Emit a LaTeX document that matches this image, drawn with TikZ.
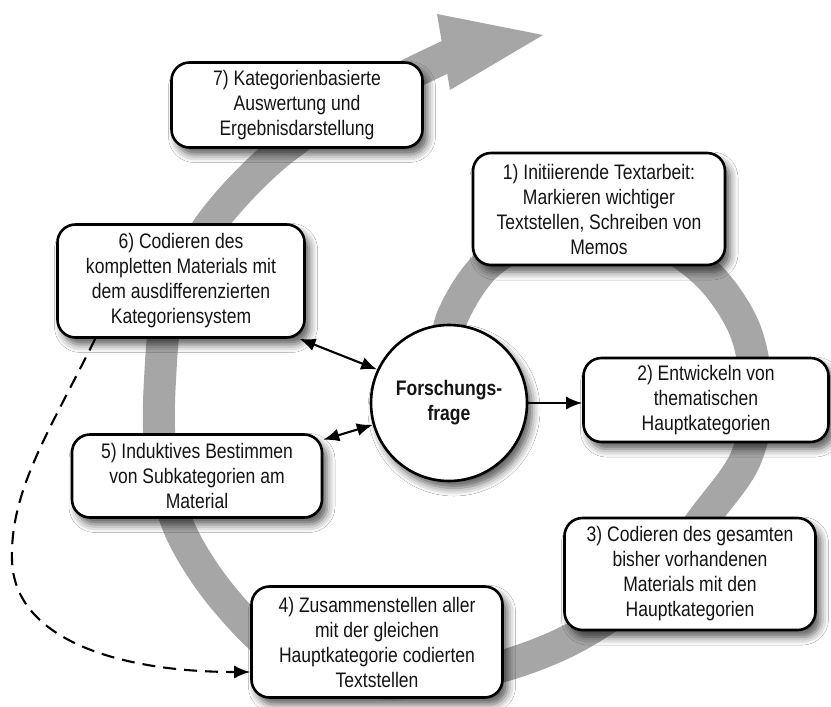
\documentclass[tikz,border=0pt]{standalone}
\usepackage{fontspec}
\setmainfont{Liberation Sans}[FakeStretch=0.835]
\usetikzlibrary{arrows.meta,shadows.blur,backgrounds,calc}
\definecolor{bandgray}{RGB}{166,166,166}
\definecolor{inkgray}{RGB}{20,20,20}

\begin{document}
\begin{tikzpicture}[x=1pt,y=-1pt,
  softshadow/.style={blur shadow={shadow xshift=5pt, shadow yshift=-7pt, shadow blur radius=8pt, shadow opacity=65}},
  stepbox/.style={draw=black, line width=2.6pt, fill=white, rounded corners=18pt,
    align=center, inner sep=0pt, text=inkgray,
    font=\fontsize{21pt}{25pt}\selectfont, softshadow},
  hub/.style={circle, draw=black, line width=2.6pt, fill=white, minimum size=156pt,
    inner sep=0pt, align=center, text=inkgray,
    font=\fontsize{21pt}{25pt}\selectfont\bfseries, softshadow},
  tip/.style={Latex[length=16pt,width=13pt]},
  link/.style={line width=2.1pt, -{Latex[length=16pt,width=13pt]}},
  twolink/.style={line width=2.1pt, {Latex[length=16pt,width=13pt]}-{Latex[length=16pt,width=13pt]}},
  dashlink/.style={line width=2.1pt, dash pattern=on 13pt off 8pt, -{Latex[length=16pt,width=13pt]}},
  band/.style={draw=bandgray, line width=32pt}
]
\useasboundingbox (0,0) rectangle (831,707);

% process steps
\node[stepbox, minimum width=252pt, minimum height=112pt] (n1) at (599,209)
  {1) Initiierende Textarbeit:\\Markieren wichtiger\\Textstellen, Schreiben von\\Memos};
\node[stepbox, minimum width=245pt, minimum height=84pt] (n2) at (706,400)
  {2) Entwickeln von\\thematischen\\Hauptkategorien};
\node[stepbox, minimum width=251pt, minimum height=112pt] (n3) at (690,574)
  {3) Codieren des gesamten\\bisher vorhandenen\\Materials mit den\\Hauptkategorien};
\node[stepbox, minimum width=251pt, minimum height=111pt] (n4) at (377,642)
  {4) Zusammenstellen aller\\mit der gleichen\\Hauptkategorie codierten\\Textstellen};
\node[stepbox, minimum width=250pt, minimum height=83pt] (n5) at (197,476)
  {5) Induktives Bestimmen\\von Subkategorien am\\Material};
\node[stepbox, minimum width=247pt, minimum height=113pt] (n6) at (181,281)
  {6) Codieren des\\kompletten Materials mit\\dem ausdifferenzierten\\Kategoriensystem};
\node[stepbox, minimum width=251pt, minimum height=85pt] (n7) at (297,105)
  {7) Kategorienbasierte\\Auswertung und\\Ergebnisdarstellung};

% central research question
\node[hub] (ff) at (449,403) {Forschungs-\\frage};

% connectors
\draw[link] (ff.east) -- (ff.east -| n2.west);
\draw[twolink] (n6.-26) -- (ff.155);
\draw[twolink] (n5.16) -- (ff.196);
\coordinate (loop) at (12,560);
\draw[dashlink] ($(n6.south west)+(39,0)$) .. controls (50,430) and (10,490) .. (loop)
  .. controls (14,640) and (120,672) .. ($(n4.west)+(0,30)$);

% spiral band behind everything
\begin{scope}[on background layer]
  \fill[white] (0,0) rectangle (831,707);
  \draw[band] plot[smooth, tension=0.55] coordinates {
    (445,370) (452,318) (490,262) (560,228) (640,232) (705,272) (745,330)
    (757,400) (745,460) (706,515) (650,585) (570,640) (480,672) (380,683)
    (290,660) (225,600) (180,530) (161,455) (160,380) (170,300) (210,225)
    (270,160) (340,110) (410,74) (450,55)};
  \fill[bandgray] (437,14) -- (543,35) -- (450,90) -- cycle;
\end{scope}
\end{tikzpicture}
\end{document}
